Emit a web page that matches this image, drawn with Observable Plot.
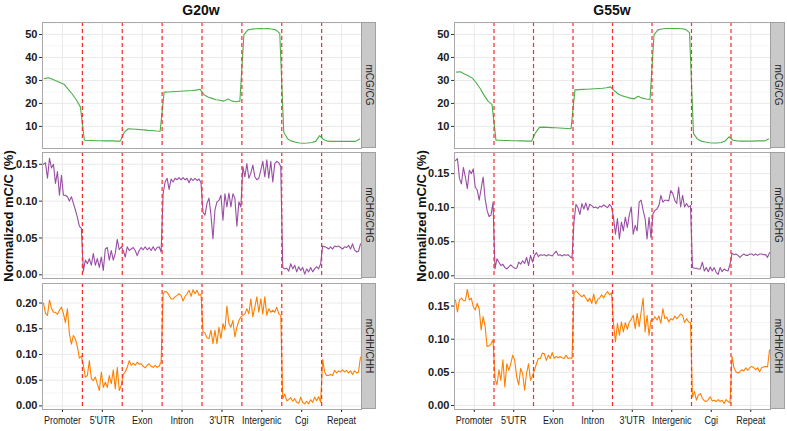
<!DOCTYPE html>
<html><head><meta charset="utf-8">
<script src="https://cdn.jsdelivr.net/npm/d3@7"></script>
<script src="https://cdn.jsdelivr.net/npm/@observablehq/plot@0.6"></script>
<style>
body{margin:0;background:#fff;font-family:"Liberation Sans",Arial,sans-serif}
#root{position:relative;width:787px;height:431px;overflow:hidden;background:#fff}
.title{position:absolute;font-weight:bold;font-size:14px;color:#111;transform:translate(-50%,-50%);white-space:nowrap}
.strip{position:absolute;background:#c9c9c9;border:1px solid #a0a0a0;box-sizing:border-box}
.strip span{position:absolute;left:50%;top:50%;transform:translate(-50%,-50%) rotate(90deg);white-space:nowrap;font-size:10px;color:#222}
.ylab{position:absolute;transform:translate(-50%,-50%) rotate(-90deg);font-weight:bold;font-size:13px;white-space:nowrap;color:#111}
.fac{position:absolute}
</style></head><body><div id="root"></div><script>
const regions = ["Promoter","5'UTR","Exon","Intron","3'UTR","Intergenic","Cgi","Repeat"];
const panels = ["G20w","G55w"];
const contexts = ["mCG/CG","mCHG/CHG","mCHH/CHH"];

const g20_CG = [
 [30.8,31.2,30.5,29.8,29.0,28.2,26.0,24.0,21.5,18.5],
 [4.0,3.9,3.9,3.8,3.8,3.7,3.8,3.7,3.6,3.6],
 [7.4,9.0,8.9,8.8,8.6,8.5,8.3,8.2,8.0,7.9],
 [24.9,25.0,25.1,25.2,25.3,25.4,25.5,25.6,25.8,26.2],
 [23.8,22.8,22.2,21.6,21.4,21.0,21.9,21.0,20.7,21.0],
 [49.8,52.0,52.3,52.5,52.6,52.5,52.6,52.4,52.0,50.5],
 [7.5,4.5,3.6,3.1,2.8,2.7,2.8,3.0,3.5,6.0],
 [4.3,3.6,3.5,3.5,3.5,3.5,3.5,3.5,3.5,4.5]
];
const g20_CHG = [
 [0.150,0.152,0.131,0.158,0.145,0.150,0.124,0.140,0.108,0.135,0.108,0.108,0.106,0.100,0.106,0.097,0.088,0.078,0.066,0.063],
 [0.005,0.020,0.015,0.022,0.013,0.029,0.013,0.022,0.010,0.024,0.006,0.035,0.037,0.020,0.033,0.020,0.029,0.048,0.034,0.038],
 [0.033,0.024,0.038,0.033,0.035,0.037,0.033,0.026,0.033,0.037,0.034,0.038,0.034,0.037,0.033,0.038,0.033,0.037,0.038,0.031],
 [0.110,0.126,0.131,0.116,0.130,0.126,0.131,0.129,0.132,0.129,0.132,0.129,0.131,0.125,0.131,0.128,0.131,0.128,0.130,0.125],
 [0.085,0.081,0.097,0.104,0.081,0.049,0.088,0.099,0.101,0.108,0.074,0.110,0.092,0.111,0.092,0.110,0.104,0.066,0.099,0.092],
 [0.147,0.133,0.151,0.131,0.138,0.149,0.133,0.129,0.131,0.142,0.154,0.133,0.156,0.131,0.154,0.126,0.151,0.154,0.152,0.147],
 [0.010,0.008,0.009,0.005,0.015,0.008,0.013,0.004,0.011,0.006,0.010,0.001,0.008,0.004,0.010,0.004,0.008,0.011,0.008,0.015],
 [0.039,0.038,0.037,0.035,0.038,0.035,0.039,0.038,0.039,0.037,0.035,0.038,0.037,0.040,0.035,0.042,0.034,0.031,0.032,0.042]
];
const g20_CHH = [
 [0.200,0.180,0.176,0.206,0.190,0.182,0.182,0.178,0.186,0.192,0.180,0.162,0.189,0.140,0.120,0.137,0.130,0.115,0.093,0.097],
 [0.079,0.056,0.059,0.088,0.053,0.049,0.056,0.043,0.030,0.066,0.036,0.046,0.036,0.059,0.043,0.070,0.033,0.075,0.030,0.040],
 [0.061,0.066,0.075,0.088,0.079,0.083,0.079,0.085,0.081,0.082,0.077,0.074,0.079,0.082,0.077,0.075,0.079,0.075,0.077,0.086],
 [0.218,0.223,0.221,0.215,0.208,0.208,0.212,0.215,0.218,0.215,0.204,0.213,0.218,0.225,0.213,0.226,0.218,0.225,0.215,0.217],
 [0.144,0.142,0.132,0.131,0.147,0.121,0.147,0.121,0.153,0.131,0.160,0.148,0.194,0.160,0.153,0.166,0.134,0.153,0.166,0.173],
 [0.176,0.179,0.189,0.179,0.208,0.173,0.192,0.212,0.182,0.208,0.179,0.212,0.176,0.189,0.182,0.186,0.182,0.192,0.179,0.176],
 [0.014,0.023,0.010,0.012,0.016,0.009,0.014,0.007,0.005,0.017,0.007,0.004,0.009,0.004,0.012,0.007,0.017,0.010,0.018,0.007],
 [0.090,0.066,0.059,0.059,0.061,0.059,0.069,0.064,0.068,0.066,0.070,0.066,0.069,0.064,0.068,0.061,0.068,0.064,0.066,0.095]
];
const g55_CG = [
 [33.6,33.8,32.8,32.0,31.0,29.0,26.5,23.5,21.0,19.5],
 [4.0,4.0,3.9,3.9,3.8,3.8,3.7,3.7,3.6,3.6],
 [7.2,9.6,9.7,9.6,9.5,9.4,9.3,9.2,9.1,9.0],
 [25.9,26.0,26.1,26.2,26.3,26.4,26.5,26.6,26.8,27.2],
 [25.5,24.0,23.3,22.8,22.3,22.0,23.1,22.3,21.9,21.7],
 [49.8,52.0,52.4,52.6,52.6,52.6,52.6,52.5,52.2,50.8],
 [7.0,4.5,3.6,3.2,2.9,2.8,2.8,3.0,3.6,5.5],
 [4.0,3.7,3.6,3.6,3.6,3.6,3.7,3.7,3.7,4.5]
];
const g55_CHG = [
 [0.169,0.172,0.143,0.135,0.159,0.145,0.128,0.155,0.150,0.157,0.130,0.126,0.111,0.128,0.145,0.113,0.096,0.087,0.089,0.108],
 [0.010,0.025,0.020,0.015,0.017,0.012,0.010,0.013,0.016,0.013,0.011,0.011,0.020,0.017,0.022,0.018,0.027,0.015,0.030,0.020],
 [0.030,0.034,0.028,0.031,0.030,0.031,0.029,0.031,0.030,0.029,0.033,0.036,0.030,0.031,0.029,0.031,0.030,0.031,0.028,0.026],
 [0.079,0.105,0.100,0.090,0.106,0.098,0.107,0.096,0.105,0.103,0.100,0.101,0.099,0.102,0.101,0.104,0.102,0.100,0.105,0.101],
 [0.086,0.061,0.084,0.054,0.079,0.066,0.086,0.071,0.089,0.101,0.061,0.074,0.066,0.108,0.111,0.096,0.084,0.054,0.086,0.056],
 [0.091,0.096,0.098,0.103,0.118,0.108,0.111,0.111,0.110,0.125,0.121,0.111,0.106,0.130,0.101,0.118,0.101,0.106,0.101,0.103],
 [0.012,0.011,0.011,0.010,0.010,0.020,0.007,0.012,0.006,0.013,0.007,0.012,0.005,0.002,0.012,0.006,0.010,0.008,0.007,0.017],
 [0.033,0.031,0.032,0.030,0.027,0.030,0.032,0.030,0.030,0.032,0.032,0.030,0.032,0.030,0.032,0.032,0.031,0.031,0.027,0.034]
];
const g55_CHH = [
 [0.159,0.141,0.159,0.162,0.158,0.158,0.175,0.159,0.162,0.149,0.144,0.154,0.146,0.114,0.134,0.119,0.089,0.090,0.093,0.099],
 [0.041,0.031,0.054,0.038,0.069,0.028,0.063,0.053,0.063,0.076,0.068,0.043,0.031,0.056,0.048,0.023,0.049,0.063,0.038,0.045],
 [0.053,0.063,0.071,0.071,0.079,0.078,0.068,0.076,0.071,0.080,0.071,0.074,0.072,0.074,0.072,0.071,0.076,0.071,0.072,0.071],
 [0.169,0.173,0.170,0.167,0.164,0.167,0.162,0.157,0.162,0.154,0.168,0.153,0.160,0.162,0.167,0.162,0.168,0.172,0.167,0.170],
 [0.124,0.096,0.124,0.106,0.126,0.111,0.125,0.115,0.126,0.130,0.136,0.116,0.139,0.119,0.141,0.162,0.111,0.136,0.106,0.129],
 [0.129,0.134,0.129,0.135,0.124,0.146,0.131,0.133,0.126,0.131,0.129,0.135,0.131,0.134,0.138,0.136,0.125,0.131,0.126,0.125],
 [0.013,0.021,0.008,0.016,0.018,0.011,0.007,0.006,0.009,0.013,0.007,0.008,0.006,0.009,0.006,0.008,0.003,0.009,0.006,0.004],
 [0.074,0.057,0.051,0.049,0.051,0.054,0.052,0.057,0.053,0.057,0.059,0.057,0.054,0.057,0.051,0.057,0.058,0.059,0.058,0.084]
];
const cgTicks = [10,20,30,40,50];
const cTicks020 = [0,0.05,0.10,0.15,0.20];
const colors = ["#4DAF4A","#984EA3","#FF7F00"];

const root = document.getElementById("root");
const centers = regions.map((_, i) => i + 0.5);
const bounds = d3.range(1, regions.length);
const facetY = [[22,126],[152,126],[283,126]];
const panelGeo = [{left:0, plotW:319, stripX:361, title:201, ylab:8},
                  {left:412, plotW:316, stripX:770, title:612, ylab:421}];
const series = [[g20_CG,g20_CHG,g20_CHH],[g55_CG,g55_CHG,g55_CHH]];
const domains = [[[0.4,55.2],[-0.005,0.166],[-0.007,0.238]],
                 [[0.4,55.2],[-0.004,0.181],[-0.006,0.184]]];
const fmtCG = d3.format("d"), fmtC = d3.format(".2f");

panels.forEach((pname, p) => {
  const g = panelGeo[p];
  const t = document.createElement("div");
  t.className = "title"; t.textContent = pname;
  t.style.left = g.title + "px"; t.style.top = "10px";
  root.appendChild(t);
  const yl = document.createElement("div");
  yl.className = "ylab"; yl.textContent = "Normalized mC/C (%)";
  yl.style.left = g.ylab + "px"; yl.style.top = "216px";
  root.appendChild(yl);
  contexts.forEach((ctx, f) => {
    const [top, plotH] = facetY[f];
    const dom = domains[p][f];
    const isCG = f === 0;
    const ticks = (isCG ? cgTicks : cTicks020).filter(v => v >= dom[0] && v <= dom[1]);
    const step = isCG ? 10 : 0.05;
    const minor = d3.range(isCG ? 5 : -0.025, dom[1], step).filter(v => v >= dom[0] && v <= dom[1]);
    const pts = [];
    series[p][f].forEach((arr, r) => arr.forEach((v, k) => pts.push({x: r + (k + 0.5) / arr.length, y: v})));
    const xAxis = f === 2;
    const mb = xAxis ? 24 : 1;
    const chart = Plot.plot({
      width: 42 + g.plotW + 1, height: plotH + 1 + mb,
      marginLeft: 42, marginRight: 1, marginTop: 1, marginBottom: mb,
      style: {fontFamily: "'Liberation Sans', Arial, sans-serif", fontSize: "11px", background: "transparent", color: "#1a1a1a", overflow: "visible"},
      x: {domain: [0, 8], axis: null},
      y: {domain: dom, axis: null},
      marks: [
        Plot.ruleY(minor, {stroke: "#f3f3f3", strokeWidth: 0.8}),
        Plot.ruleY(ticks, {stroke: "#e8e8e8", strokeWidth: 0.9}),
        Plot.ruleX(d3.range(0, 9), {stroke: "#f3f3f3", strokeWidth: 0.8}),
        Plot.ruleX(centers, {stroke: "#e8e8e8", strokeWidth: 0.9}),
        Plot.axisY({ticks, tickFormat: isCG ? fmtCG : fmtC, tickSize: 3, tickPadding: 2, label: null, fontWeight: "bold", stroke: "#333"}),
        xAxis ? Plot.axisX({ticks: centers, tickFormat: d => regions[Math.floor(d)], tickSize: 3, tickPadding: 4, label: null, fontSize: 11, ariaLabel: "region-labels"}) : null,
        Plot.line(pts, {x: "x", y: "y", stroke: colors[f], strokeWidth: 1.1}),
        Plot.ruleX(bounds, {stroke: "#ff2a2a", strokeDasharray: "4,3", strokeWidth: 1.2}),
        Plot.frame({stroke: "#a8a8a8"})
      ]
    });
    chart.classList.add("fac");
    chart.style.left = g.left + "px";
    chart.style.top = (top - 1) + "px";
    root.appendChild(chart);
    if (xAxis) {
      chart.querySelectorAll("text").forEach(el => {
        if (regions.includes(el.textContent)) {
          const len = el.getComputedTextLength();
          el.setAttribute("textLength", (len * 0.82).toFixed(1));
          el.setAttribute("lengthAdjust", "spacingAndGlyphs");
        }
      });
    }
    const s = document.createElement("div");
    s.className = "strip";
    s.style.left = g.stripX + "px"; s.style.top = top + "px";
    s.style.width = "15px"; s.style.height = plotH + "px";
    const sp = document.createElement("span"); sp.textContent = ctx;
    s.appendChild(sp); root.appendChild(s);
  });
});
</script></body></html>
